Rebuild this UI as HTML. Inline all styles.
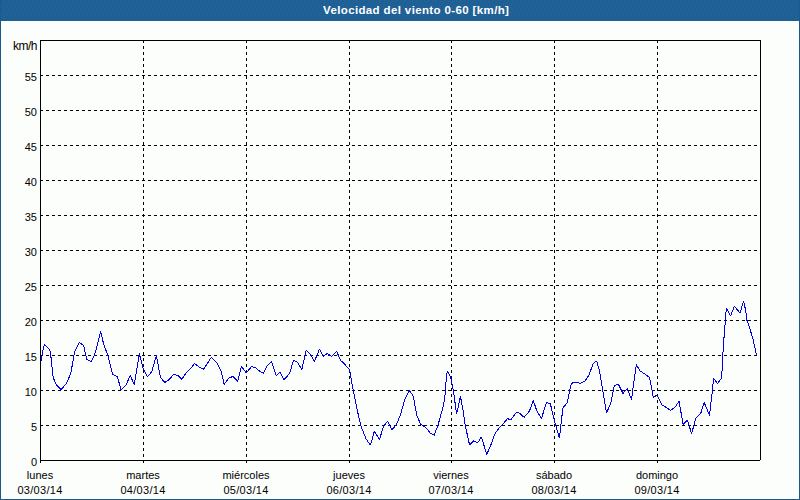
<!DOCTYPE html>
<html><head><meta charset="utf-8"><style>
html,body{margin:0;padding:0;}
body{width:800px;height:500px;position:relative;overflow:hidden;background:#fcfefc;font-family:"Liberation Sans",sans-serif;font-size:11px;color:#000;}
#bl{position:absolute;left:0;top:0;width:1px;height:500px;background:#1a5a8c;}
#br{position:absolute;right:0;top:0;width:1px;height:500px;background:#1a5a8c;}
#bb{position:absolute;left:0;bottom:0;width:800px;height:1px;background:#1a5a8c;}
#title{position:absolute;left:323px;top:4px;color:#fff;font-weight:bold;white-space:nowrap;line-height:13px;letter-spacing:0.37px;font-size:11.5px;}
.yl{position:absolute;left:0;width:37px;text-align:right;line-height:13px;white-space:nowrap;}
.xl{position:absolute;width:100px;text-align:center;line-height:13px;white-space:nowrap;}
.d{letter-spacing:0.3px;}
#kmh{position:absolute;left:13px;top:40px;line-height:13px;font-size:12px;letter-spacing:-0.5px;}
svg{position:absolute;left:0;top:0;}
.g{stroke:#000;stroke-width:1;stroke-dasharray:3 3;shape-rendering:crispEdges;}
</style></head><body>
<svg width="800" height="21" style="position:absolute;left:0;top:0"><defs><pattern id="dp" width="8" height="8" patternUnits="userSpaceOnUse"><rect width="8" height="8" fill="#1f6093"/><rect x="4" y="0" width="1" height="1" fill="#2664b2"/><rect x="0" y="1" width="1" height="1" fill="#2664b2"/><rect x="3" y="2" width="1" height="1" fill="#2664b2"/><rect x="7" y="4" width="1" height="1" fill="#2664b2"/><rect x="1" y="5" width="1" height="1" fill="#2664b2"/><rect x="5" y="5" width="1" height="1" fill="#2664b2"/><rect x="3" y="7" width="1" height="1" fill="#2664b2"/><rect x="7" y="7" width="1" height="1" fill="#2664b2"/></pattern></defs><rect width="800" height="21" fill="url(#dp)"/></svg>
<svg width="800" height="500" viewBox="0 0 800 500">
<line x1="40" y1="425.5" x2="760" y2="425.5" class="g"/><line x1="40" y1="390.5" x2="760" y2="390.5" class="g"/><line x1="40" y1="355.5" x2="760" y2="355.5" class="g"/><line x1="40" y1="320.5" x2="760" y2="320.5" class="g"/><line x1="40" y1="285.5" x2="760" y2="285.5" class="g"/><line x1="40" y1="250.5" x2="760" y2="250.5" class="g"/><line x1="40" y1="215.5" x2="760" y2="215.5" class="g"/><line x1="40" y1="180.5" x2="760" y2="180.5" class="g"/><line x1="40" y1="145.5" x2="760" y2="145.5" class="g"/><line x1="40" y1="110.5" x2="760" y2="110.5" class="g"/><line x1="40" y1="75.5" x2="760" y2="75.5" class="g"/><line x1="143.5" y1="40" x2="143.5" y2="460" class="g"/><rect x="143" y="461" width="1" height="2" fill="#000"/><line x1="246.5" y1="40" x2="246.5" y2="460" class="g"/><rect x="246" y="461" width="1" height="2" fill="#000"/><line x1="349.5" y1="40" x2="349.5" y2="460" class="g"/><rect x="349" y="461" width="1" height="2" fill="#000"/><line x1="451.5" y1="40" x2="451.5" y2="460" class="g"/><rect x="451" y="461" width="1" height="2" fill="#000"/><line x1="554.5" y1="40" x2="554.5" y2="460" class="g"/><rect x="554" y="461" width="1" height="2" fill="#000"/><line x1="657.5" y1="40" x2="657.5" y2="460" class="g"/><rect x="657" y="461" width="1" height="2" fill="#000"/>

<rect x="40" y="40" width="721" height="1" fill="#000"/>
<rect x="40" y="460" width="720" height="1" fill="#000"/>
<rect x="40" y="40" width="1" height="423" fill="#000"/>
<rect x="760" y="40" width="1" height="420" fill="#000"/>

<polyline points="41.2,360.8 42.5,352.4 44.5,344.3 49.6,349.3 50.6,353.6 53.2,377.6 56.4,384.8 61.2,389.6 66.0,384.0 70.8,373.6 74.5,352.0 79.3,342.4 83.6,345.6 86.8,359.2 91.3,362.0 95.6,352.0 100.6,331.2 103.8,344.8 107.8,355.2 112.6,374.4 117.4,376.8 121.1,390.1 126.2,384.8 130.2,375.2 134.2,384.8 139.5,353.6 143.0,368.0 147.5,376.8 151.8,371.5 156.4,355.6 160.4,377.2 164.8,382.6 169.2,379.6 173.7,374.3 178.0,375.6 181.7,379.3 186.0,373.2 190.8,368.4 194.5,363.6 198.8,366.8 203.6,369.2 211.4,357.2 217.0,362.8 221.0,370.8 224.2,384.4 229.0,378.0 233.0,376.4 237.8,381.2 241.5,366.5 246.5,373.0 251.4,366.5 255.4,367.6 260.2,371.6 263.5,373.5 267.2,365.6 271.5,361.6 276.3,376.0 280.0,372.0 284.0,379.5 289.6,373.6 293.6,360.0 297.6,362.4 301.9,369.6 306.1,350.4 310.4,354.4 314.4,361.6 319.5,349.0 323.2,356.4 327.0,353.6 329.2,354.8 331.6,356.6 336.6,351.2 340.4,360.2 343.8,363.2 349.6,369.8 351.0,378.2 353.4,391.4 357.2,410.0 361.2,426.8 366.0,438.8 370.5,445.2 374.3,431.3 379.6,439.3 383.6,426.0 387.6,421.5 391.9,430.0 396.4,424.4 400.6,414.8 404.6,399.6 409.4,390.5 413.4,396.4 416.6,414.8 420.6,424.4 425.7,427.3 430.2,433.2 434.2,435.3 438.2,424.4 443.4,405.8 445.2,393.8 446.4,376.4 447.4,371.2 450.6,377.0 452.4,385.4 454.0,395.0 456.6,414.2 460.4,396.4 463.2,410.6 465.0,424.4 469.5,444.8 473.8,440.7 477.6,442.9 481.4,436.9 486.7,454.4 491.3,443.9 494.1,435.5 496.2,432.0 500.4,426.4 504.6,422.2 507.4,418.7 510.9,419.7 516.5,412.4 519.3,413.1 524.2,417.3 529.5,411.0 533.3,400.5 537.0,411.3 541.5,418.3 546.5,402.5 550.3,403.6 554.5,421.1 559.4,438.0 562.9,407.8 567.1,402.9 571.3,383.5 574.8,382.0 580.6,383.3 584.8,381.1 589.0,375.2 593.2,363.3 596.7,361.2 599.5,371.0 602.3,387.8 606.5,413.0 610.7,403.2 614.2,385.7 618.4,384.3 623.0,393.5 627.2,388.6 631.5,399.5 636.3,364.6 640.0,371.0 644.0,373.4 649.6,377.4 653.3,397.4 657.1,395.0 661.6,404.6 665.6,407.0 670.3,410.3 674.5,407.8 679.0,401.5 683.2,424.6 687.4,420.1 691.6,433.7 695.8,418.3 700.7,413.4 704.2,402.5 709.5,415.5 712.5,389.5 713.5,378.2 717.5,383.5 721.2,378.5 722.0,371.0 723.5,343.0 724.8,329.0 725.5,315.5 726.5,308.0 730.5,316.0 734.5,306.2 740.0,313.2 743.5,301.2 745.5,309.5 747.0,320.5 750.0,329.0 753.5,341.0 754.5,346.0 756.5,355.0" fill="none" stroke="#0000e6" stroke-width="1" shape-rendering="crispEdges" stroke-linejoin="bevel"/>
</svg>
<div id="title">Velocidad del viento 0-60 [km/h]</div>
<div id="kmh">km/h</div>
<div class="yl" style="top:421px">5</div><div class="yl" style="top:386px">10</div><div class="yl" style="top:351px">15</div><div class="yl" style="top:316px">20</div><div class="yl" style="top:281px">25</div><div class="yl" style="top:246px">30</div><div class="yl" style="top:211px">35</div><div class="yl" style="top:176px">40</div><div class="yl" style="top:141px">45</div><div class="yl" style="top:106px">50</div><div class="yl" style="top:71px">55</div>
<div class="yl" style="top:456px">0</div>
<div class="xl" style="left:-10px;top:469px">lunes</div><div class="xl d" style="left:-10px;top:484px">03/03/14</div><div class="xl" style="left:93px;top:469px">martes</div><div class="xl d" style="left:93px;top:484px">04/03/14</div><div class="xl" style="left:196px;top:469px">miércoles</div><div class="xl d" style="left:196px;top:484px">05/03/14</div><div class="xl" style="left:299px;top:469px">jueves</div><div class="xl d" style="left:299px;top:484px">06/03/14</div><div class="xl" style="left:401px;top:469px">viernes</div><div class="xl d" style="left:401px;top:484px">07/03/14</div><div class="xl" style="left:504px;top:469px">sábado</div><div class="xl d" style="left:504px;top:484px">08/03/14</div><div class="xl" style="left:607px;top:469px">domingo</div><div class="xl d" style="left:607px;top:484px">09/03/14</div>
<div id="bl"></div><div id="br"></div><div id="bb"></div>
</body></html>
